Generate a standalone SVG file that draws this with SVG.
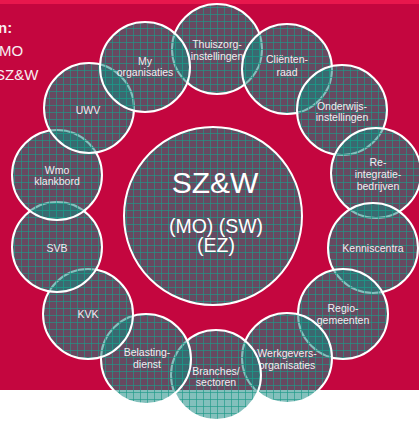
<svg xmlns="http://www.w3.org/2000/svg" width="419" height="421" viewBox="0 0 419 421">
<style>
.lbl{font-family:"Liberation Sans",Arial,sans-serif;font-size:10.5px;fill:#f1ecf1;text-anchor:middle}
.big{font-family:"Liberation Sans",Arial,sans-serif;fill:#ffffff;text-anchor:middle}
.side{font-family:"Liberation Sans",Arial,sans-serif;font-size:15px;fill:#f6eef1}
.node circle{fill:url(#grid);stroke:#ffffff;stroke-width:2}
</style>
<defs>
<pattern id="grid" patternUnits="userSpaceOnUse" width="7" height="7">
<rect width="7" height="7" fill="#12877f" fill-opacity="0.52"/>
<path d="M0 0.5H7M0.5 0V7" stroke="#1d9a88" stroke-opacity="0.65" stroke-width="1"/>
</pattern>
</defs>
<rect x="0" y="0" width="419" height="421" fill="#ffffff"/>
<rect x="0" y="0" width="419" height="390" fill="#c4063f"/>
<rect x="0" y="0" width="419" height="4" fill="#e8174d"/>
<g id="side-text">
<text class="side" x="-2" y="33" font-weight="bold">n:</text>
<text class="side" x="-1" y="56">MO</text>
<text class="side" x="-5" y="80">SZ&amp;W</text>
</g>
<g id="connectors"/>
<g id="center" class="node">
<circle cx="213" cy="216" r="89"/>
<text class="big" x="215" y="193" font-size="30">SZ&amp;W</text>
<text class="big" x="216" y="233" font-size="19.5">(MO) (SW)</text>
<text class="big" x="216" y="252" font-size="19.5">(EZ)</text>
</g>
<g id="thuiszorg" class="node"><circle cx="217" cy="49" r="45"/><text class="lbl" x="217" y="48">Thuiszorg-</text><text class="lbl" x="217" y="60">instellingen</text></g>
<g id="clienten" class="node"><circle cx="287" cy="69" r="45"/><text class="lbl" x="287" y="63">Cliënten-</text><text class="lbl" x="287" y="76">raad</text></g>
<g id="onderwijs" class="node"><circle cx="342" cy="110" r="45"/><text class="lbl" x="342" y="110">Onderwijs-</text><text class="lbl" x="342" y="121">instellingen</text></g>
<g id="reintegratie" class="node"><circle cx="376" cy="173" r="45"/><text class="lbl" x="378" y="166">Re-</text><text class="lbl" x="378" y="178">integratie-</text><text class="lbl" x="378" y="190">bedrijven</text></g>
<g id="kenniscentra" class="node"><circle cx="373" cy="248" r="45"/><text class="lbl" x="373" y="252">Kenniscentra</text></g>
<g id="regio" class="node"><circle cx="343" cy="314" r="45"/><text class="lbl" x="343" y="312">Regio-</text><text class="lbl" x="343" y="324">gemeenten</text></g>
<g id="werkgevers" class="node"><circle cx="287" cy="358" r="45"/><text class="lbl" x="287" y="357">Werkgevers-</text><text class="lbl" x="287" y="369">organisaties</text></g>
<g id="branches" class="node"><circle cx="216" cy="375" r="45"/><text class="lbl" x="216" y="375">Branches/</text><text class="lbl" x="216" y="386">sectoren</text></g>
<g id="belasting" class="node"><circle cx="146" cy="359" r="45"/><text class="lbl" x="147" y="356">Belasting-</text><text class="lbl" x="147" y="368">dienst</text></g>
<g id="kvk" class="node"><circle cx="88" cy="314" r="45"/><text class="lbl" x="88" y="318">KVK</text></g>
<g id="svb" class="node"><circle cx="57" cy="247" r="45"/><text class="lbl" x="57" y="252">SVB</text></g>
<g id="wmo" class="node"><circle cx="57" cy="175" r="45"/><text class="lbl" x="57" y="174">Wmo</text><text class="lbl" x="57" y="185">klankbord</text></g>
<g id="uwv" class="node"><circle cx="89" cy="108" r="45"/><text class="lbl" x="88" y="114">UWV</text></g>
<g id="myorg" class="node"><circle cx="145" cy="67" r="45"/><text class="lbl" x="145" y="65">My</text><text class="lbl" x="145" y="76">organisaties</text></g>
</svg>
